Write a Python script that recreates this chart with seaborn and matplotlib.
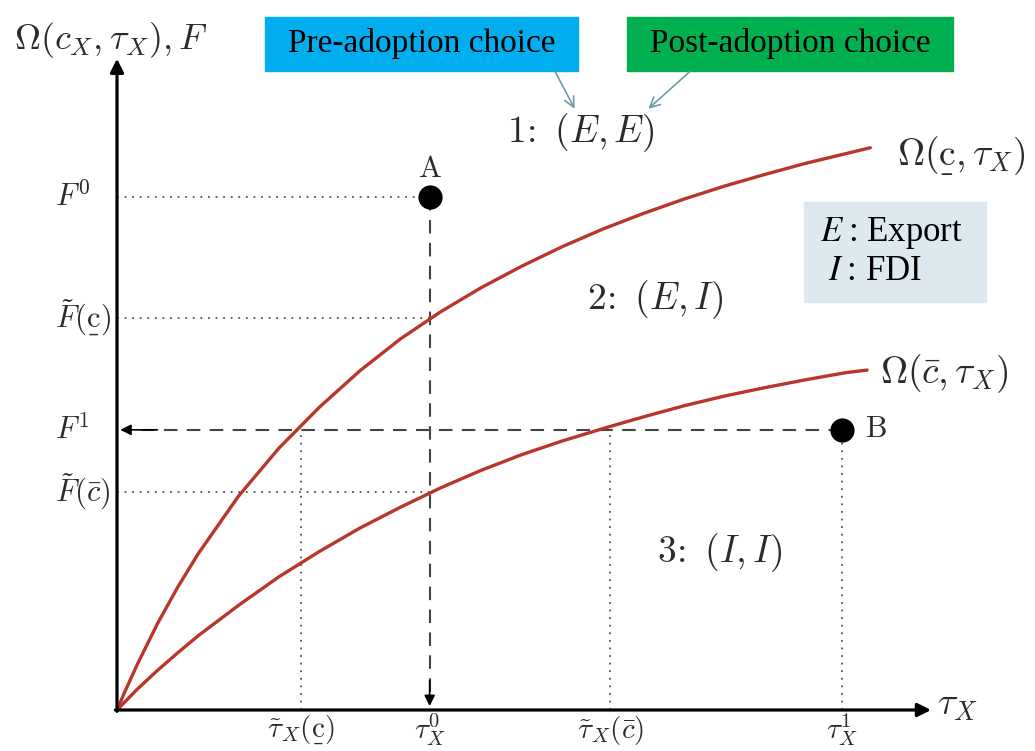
import numpy as np
import pandas as pd
import matplotlib
matplotlib.use("Agg")
import matplotlib.pyplot as plt
import seaborn as sns
from matplotlib.patches import Rectangle
from matplotlib.mathtext import MathTextParser

# ---------------- data ----------------
tau_upper = [0.0, 0.1, 0.25, 0.5, 0.75, 1.0, 1.5, 2.0, 2.5, 3.0, 3.5, 4.0, 4.5, 5.0, 5.5, 6.0,
             6.5, 7.0, 7.5, 8.0, 8.5, 9.0, 9.3]
omega_upper = [0.0, 0.29, 0.70, 1.33, 1.89, 2.40, 3.29, 4.03, 4.66, 5.22, 5.71, 6.13, 6.50, 6.83,
               7.13, 7.40, 7.64, 7.86, 8.06, 8.24, 8.41, 8.56, 8.65]
tau_lower = [0.0, 0.25, 0.5, 0.75, 1.0, 1.5, 2.0, 2.5, 3.0, 3.5, 4.0, 4.5, 5.0, 5.5, 6.0, 6.5,
             7.0, 7.5, 8.0, 8.5, 9.0, 9.26]
omega_lower = [0.0, 0.32, 0.61, 0.88, 1.14, 1.61, 2.05, 2.44, 2.80, 3.12, 3.42, 3.69, 3.93, 4.14,
               4.33, 4.51, 4.68, 4.83, 4.96, 5.08, 5.19, 5.23]

point_names = ["A", "B"]
point_tau = [3.86, 8.95]
point_F = [7.89, 4.31]

# key levels
F0, F_tilde_cu, F1, F_tilde_cb = 7.89, 6.03, 4.31, 3.35
tau_tilde_cu, tau0, tau_tilde_cb, tau1 = 2.27, 3.86, 6.09, 8.95

sns.set_theme(style="white")
plt.rcParams["mathtext.fontset"] = "cm"
plt.rcParams["font.family"] = ["Liberation Serif", "DejaVu Serif"]


def _ok(s):
    try:
        MathTextParser("agg").parse(s, dpi=100)
        return True
    except Exception:
        return False


UC = r"\underline{\mathrm{c}}" if _ok(r"$\underline{\mathrm{c}}$") else r"\underset{\_}{\mathrm{c}}"
if not _ok("$" + UC + "$"):
    UC = r"\mathrm{c}"
BC = r"\bar{c}"

fig = plt.figure(figsize=(10.35, 7.51), dpi=100)
ax = fig.add_axes([0, 0, 1, 1])
ax.set_xlim(-117 / 81, (1035 - 117) / 81)
ax.set_ylim((710 - 751) / 65, 710 / 65)
ax.axis("off")

red = "#B8372A"
txt = "#2b2b2b"

curves = pd.concat([
    pd.DataFrame({"tau": tau_upper, "omega": omega_upper, "curve": "upper"}),
    pd.DataFrame({"tau": tau_lower, "omega": omega_lower, "curve": "lower"}),
])
sns.lineplot(data=curves, x="tau", y="omega", units="curve", estimator=None,
             color=red, lw=2.4, sort=False, ax=ax, zorder=4)

# axes arrows
ax.annotate("", xy=(10.05, 0), xytext=(-0.02, 0),
            arrowprops=dict(arrowstyle="-|>", lw=2.3, color="black", mutation_scale=20, shrinkA=0, shrinkB=0), zorder=5)
ax.annotate("", xy=(0, 10.02), xytext=(0, -0.02),
            arrowprops=dict(arrowstyle="-|>", lw=2.3, color="black", mutation_scale=20, shrinkA=0, shrinkB=0), zorder=5)

dot = dict(color="#555555", lw=1.3, linestyle=(0, (1, 3.2)), zorder=2)
ax.plot([0, tau0], [F0, F0], **dot)
ax.plot([0, tau0], [F_tilde_cu, F_tilde_cu], **dot)
ax.plot([0, tau0], [F_tilde_cb, F_tilde_cb], **dot)
ax.plot([tau_tilde_cu, tau_tilde_cu], [0, F1], **dot)
ax.plot([tau_tilde_cb, tau_tilde_cb], [0, F1], **dot)
ax.plot([tau1, tau1], [0, F1], **dot)

dash = dict(color="#444444", lw=1.5, linestyle=(0, (6.5, 4.5)), zorder=3)
ax.plot([tau0, tau0], [F0, 0.25], **dash)
ax.plot([tau1, 0.25], [F1, F1], **dash)
ax.annotate("", xy=(tau0, 0.06), xytext=(tau0, 0.45),
            arrowprops=dict(arrowstyle="-|>", lw=1.2, color="black", mutation_scale=16, shrinkA=0, shrinkB=0), zorder=5)
ax.annotate("", xy=(0.04, F1), xytext=(0.5, F1),
            arrowprops=dict(arrowstyle="-|>", lw=1.2, color="black", mutation_scale=16, shrinkA=0, shrinkB=0), zorder=5)

pts = pd.DataFrame({"tau": point_tau, "F": point_F, "name": point_names})
sns.scatterplot(data=pts, x="tau", y="F", color="black", s=260, edgecolor="black", ax=ax, zorder=6, legend=False)
ax.text(point_tau[0], point_F[0] + 0.42, r"$\mathrm{A}$", ha="center", va="center", fontsize=22, color=txt)
ax.text(point_tau[1] + 0.28, point_F[1], r"$\mathrm{B}$", ha="left", va="center", fontsize=22, color=txt)

# axis titles
ax.text(-1.27, 10.31, r"$\Omega(c_X,\tau_X), F$", ha="left", va="center", fontsize=26, color=txt)
ax.text(10.12, 0.07, r"$\tau_X$", ha="left", va="center", fontsize=27, color=txt)

# y labels
ylabs = [(F0, r"$F^0$"), (F_tilde_cu, r"$\tilde{F}(" + UC + ")$"), (F1, r"$F^1$"), (F_tilde_cb, r"$\tilde{F}(" + BC + ")$")]
for yv, s in ylabs:
    ax.text(-0.77, yv, s, ha="left", va="center", fontsize=22, color=txt)
# x labels
xlabs = [(tau_tilde_cu, r"$\tilde{\tau}_X(" + UC + ")$"), (tau0, r"$\tau_X^0$"),
         (tau_tilde_cb, r"$\tilde{\tau}_X(" + BC + ")$"), (tau1, r"$\tau_X^1$")]
for xv, s in xlabs:
    ax.text(xv, -0.31, s, ha="center", va="center", fontsize=21, color=txt)

# region labels
ax.text(5.73, 8.89, r"$1\!:\ (E,E)$", ha="center", va="center", fontsize=27, color=txt)
ax.text(6.65, 6.31, r"$2\!:\ (E,I)$", ha="center", va="center", fontsize=27, color=txt)
ax.text(7.44, 2.42, r"$3\!:\ (I,I)$", ha="center", va="center", fontsize=27, color=txt)

# curve labels
ax.text(9.63, 8.51, r"$\Omega(" + UC + r",\tau_X)$", ha="left", va="center", fontsize=27, color=txt)
ax.text(9.42, 5.18, r"$\Omega(" + BC + r",\tau_X)$", ha="left", va="center", fontsize=27, color=txt)

# colored boxes
ax.add_patch(Rectangle((1.827, 9.83), 5.691 - 1.827, 10.66 - 9.83, color="#00AEEF", zorder=3))
ax.text((1.827 + 5.691) / 2, 10.25, "Pre-adoption choice", ha="center", va="center", fontsize=24, color="black", zorder=4)
ax.add_patch(Rectangle((6.296, 9.83), 10.32 - 6.296, 10.66 - 9.83, color="#00B050", zorder=3))
ax.text((6.296 + 10.32) / 2, 10.25, "Post-adoption choice", ha="center", va="center", fontsize=24, color="black", zorder=4)

arrow_c = "#6f9aa6"
ax.annotate("", xy=(5.65, 9.25), xytext=(5.41, 9.82),
            arrowprops=dict(arrowstyle="->", lw=1.2, color=arrow_c, mutation_scale=18, shrinkA=0, shrinkB=0))
ax.annotate("", xy=(6.56, 9.25), xytext=(7.07, 9.82),
            arrowprops=dict(arrowstyle="->", lw=1.2, color=arrow_c, mutation_scale=18, shrinkA=0, shrinkB=0))

# legend box
ax.add_patch(Rectangle((8.48, 6.28), 10.73 - 8.48, 7.82 - 6.28, color="#DEE9EF", zorder=3))
ax.text(8.68, 7.34, r"$E$" + "\u2009: Export", ha="left", va="center", fontsize=25, color="black", zorder=4,
        math_fontfamily="stix")
ax.text(8.78, 6.74, r"$I$" + "\u2009: FDI", ha="left", va="center", fontsize=25, color="black", zorder=4,
        math_fontfamily="stix")

fig.savefig("out.png", dpi=100)
